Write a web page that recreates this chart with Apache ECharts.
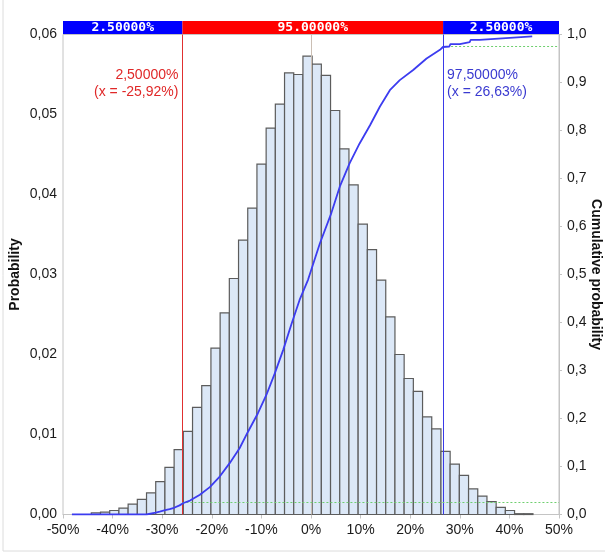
<!DOCTYPE html>
<html>
<head>
<meta charset="utf-8">
<script src="https://cdn.jsdelivr.net/npm/echarts@6/dist/echarts.min.js"></script>
<style>html,body{margin:0;padding:0;background:#fff;}#chart{width:605px;height:553px;}</style>
</head>
<body>
<div id="chart"></div>
<script>
// ---- data ----
const binStart = -48.0;   // % (left edge of first bin)
const binWidth = 1.855;   // % per bin
const probabilities = [
  0, 0, 0.0002, 0.0003, 0.0005, 0.0008, 0.0013, 0.0019, 0.0027, 0.0041,
  0.0059, 0.0081, 0.0104, 0.0134, 0.0161, 0.0208, 0.0252, 0.0295, 0.0343, 0.0383,
  0.0438, 0.0483, 0.0513, 0.0552, 0.0550, 0.0573, 0.0563, 0.0549, 0.0505, 0.0457,
  0.0412, 0.0363, 0.0331, 0.0293, 0.0247, 0.0200, 0.0170, 0.0154, 0.0122, 0.0107,
  0.0079, 0.0063, 0.0049, 0.0032, 0.0023, 0.0016, 0.0009, 0.0005, 0.0001, 0.0001
];
const cdfX = [-48.2, -33.2, -33.0, -31.3, -30.5, -29.4, -28.5, -27.6, -26.5, -25.7,
  -24.4, -22.4, -20.4, -18.4, -16.4, -14.4, -12.7, -10.7, -9.0, -7.3,
  -5.6, -3.9, -2.3, -0.6, 1.8, 4.1, 5.8, 7.8, 9.8, 11.9,
  13.9, 15.9, 17.9, 20.6, 23.3, 26.0, 26.6, 27.9, 28.1, 30.0,
  30.2, 32.0, 32.2, 34.0, 34.2, 44.6];
const cdfY = [0, 0, 0.003, 0.004, 0.006, 0.009, 0.011, 0.014, 0.019, 0.024,
  0.029, 0.041, 0.057, 0.079, 0.107, 0.138, 0.1725, 0.211, 0.249, 0.294,
  0.343, 0.398, 0.447, 0.489, 0.565, 0.628, 0.683, 0.732, 0.773, 0.811,
  0.850, 0.884, 0.905, 0.926, 0.950, 0.968, 0.974, 0.975, 0.980, 0.980,
  0.984, 0.984, 0.989, 0.989, 0.993, 0.996];
const lowerX = -25.92, upperX = 26.63;
const lowerP = 0.025, upperP = 0.975;
const bandEdges = [-50, lowerX, upperX, 50];
const bandLabels = ['2.50000%', '95.00000%', '2.50000%'];
const annotationX = [lowerX, upperX];
const annotationLines = [['2,50000%', '(x = -25,92%)'], ['97,50000%', '(x = 26,63%)']];

// ---- styles ----
const FONT = '"Liberation Sans", Arial, sans-serif';
const bandColors = ['#0000ff', '#ff0000', '#0000ff'];
const annColors = ['#e02828', '#3a3ad0'];
const annAlign = ['right', 'left'];

const histData = probabilities.map((p, i) => [binStart + i * binWidth, binStart + (i + 1) * binWidth, p]);
const cdfData = cdfX.map((x, i) => [x, cdfY[i]]);
const bandData = bandLabels.map((l, i) => [bandEdges[i], bandEdges[i + 1]]);
const annData = annotationX.map(x => [x]);

function vLine(x, color, z) {
  return {type: 'line', xAxisIndex: 0, yAxisIndex: 0, data: [], z: z, color: color,
    markLine: {silent: true, symbol: 'none', label: {show: false}, animation: false,
      lineStyle: {color: color, width: 1, type: 'solid', opacity: 1}, data: [{xAxis: x}]}};
}
function hLine(x0, p, color) {
  return {type: 'line', xAxisIndex: 0, yAxisIndex: 1, data: [], z: 4, color: color,
    markLine: {silent: true, symbol: 'none', label: {show: false}, animation: false,
      lineStyle: {color: color, width: 1, type: [2, 2], opacity: 1},
      data: [[{coord: [x0, p]}, {coord: [50, p]}]]}};
}

const chart = echarts.init(document.getElementById('chart'), null, {renderer: 'canvas'});
const axisGray = '#c4c4c4';
chart.setOption({
  animation: false,
  backgroundColor: '#fff',
  graphic: [{type: 'polyline', shape: {points: [[3, 0], [3, 551], [605, 551]]}, style: {stroke: '#dcdcdc', fill: null, lineWidth: 1}, silent: true}],
  grid: [
    {left: 63, right: 46, top: 34.5, bottom: 38.5, show: true, borderColor: axisGray, borderWidth: 1, backgroundColor: '#fff',
     containLabel: false, outerBoundsMode: 'none'},
    {left: 63, right: 46, top: 21, height: 13, show: false, containLabel: false, outerBoundsMode: 'none'}
  ],
  xAxis: [
    {type: 'value', gridIndex: 0, min: -50, max: 50, interval: 10,
     axisLine: {show: true, onZero: false, lineStyle: {color: axisGray}},
     axisTick: {show: true, length: 4, lineStyle: {color: axisGray}},
     splitLine: {show: false},
     axisLabel: {formatter: v => v + '%', fontFamily: FONT, fontSize: 14, color: '#1a1a1a', margin: 9}},
    {type: 'value', gridIndex: 1, min: -50, max: 50, show: false}
  ],
  yAxis: [
    {type: 'value', gridIndex: 0, min: 0, max: 0.06, interval: 0.01,
     name: 'Probability', nameLocation: 'middle', nameGap: 41, nameRotate: 90, nameMoveOverlap: false,
     nameTextStyle: {fontFamily: FONT, fontSize: 14, fontWeight: 'bold', color: '#111'},
     axisLine: {show: true, lineStyle: {color: axisGray}},
     axisTick: {show: true, length: 3, lineStyle: {color: axisGray}},
     splitLine: {show: false},
     axisLabel: {formatter: v => v.toFixed(2).replace('.', ','), fontFamily: FONT, fontSize: 14, color: '#1a1a1a', margin: 6}},
    {type: 'value', gridIndex: 0, min: 0, max: 1, interval: 0.1, position: 'right',
     name: 'Cumulative probability', nameLocation: 'middle', nameGap: 30, nameRotate: -90, nameMoveOverlap: false,
     nameTextStyle: {fontFamily: FONT, fontSize: 14, fontWeight: 'bold', color: '#111'},
     axisLine: {show: true, lineStyle: {color: axisGray}},
     axisTick: {show: true, length: 3, lineStyle: {color: axisGray}},
     splitLine: {show: false},
     axisLabel: {formatter: v => v.toFixed(1).replace('.', ','), fontFamily: FONT, fontSize: 14, color: '#1a1a1a', margin: 8}},
    {type: 'value', gridIndex: 1, min: 0, max: 1, show: false}
  ],
  series: [
    vLine(0, '#cbbfb4', 1),
    {
      type: 'custom', xAxisIndex: 0, yAxisIndex: 0, z: 2,
      data: histData, encode: {x: [0, 1], y: 2},
      renderItem: function (params, api) {
        const h = api.value(2);
        if (!(h > 0)) return null;
        const p0 = api.coord([api.value(0), h]);
        const p1 = api.coord([api.value(1), 0]);
        return {type: 'rect', shape: {x: p0[0], y: p0[1], width: p1[0] - p0[0], height: p1[1] - p0[1]},
          style: {fill: '#dce8f7', stroke: '#5c5c5c', lineWidth: 1.2}};
      }
    },
    vLine(lowerX, '#e03030', 4),
    vLine(upperX, '#3a3ae8', 4),
    hLine(lowerX, lowerP, '#6fcf6f'),
    hLine(upperX, upperP, '#6fcf6f'),
    {
      type: 'line', xAxisIndex: 0, yAxisIndex: 1, z: 5, data: cdfData,
      symbol: 'none', lineStyle: {color: '#3c3cf0', width: 1.8}
    },
    {
      type: 'custom', xAxisIndex: 1, yAxisIndex: 2, z: 6, data: bandData, encode: {x: [0, 1]},
      renderItem: function (params, api) {
        const i = params.dataIndex;
        const p0 = api.coord([api.value(0), 1]);
        const p1 = api.coord([api.value(1), 0]);
        return {type: 'group', children: [
          {type: 'rect', shape: {x: p0[0], y: p0[1], width: p1[0] - p0[0], height: p1[1] - p0[1]},
            style: {fill: bandColors[i]}},
          {type: 'text', x: (p0[0] + p1[0]) / 2, y: (p0[1] + p1[1]) / 2 + 0.5,
            style: {text: bandLabels[i], fill: '#fff', align: 'center', verticalAlign: 'middle',
              font: 'bold 13px "DejaVu Sans Mono", monospace'}}
        ]};
      }
    },
    {
      type: 'custom', xAxisIndex: 0, yAxisIndex: 0, z: 7, data: annData, encode: {x: 0}, clip: false,
      renderItem: function (params, api) {
        const i = params.dataIndex;
        const p = api.coord([api.value(0), 0.06]);
        return {type: 'text', x: p[0] + (annAlign[i] === 'right' ? -4 : 4), y: p[1] + 32,
          style: {text: annotationLines[i].join('\n'), fill: annColors[i], align: annAlign[i], verticalAlign: 'top',
            font: '14px ' + FONT, lineHeight: 17}};
      }
    }
  ]
});
</script>
</body>
</html>
